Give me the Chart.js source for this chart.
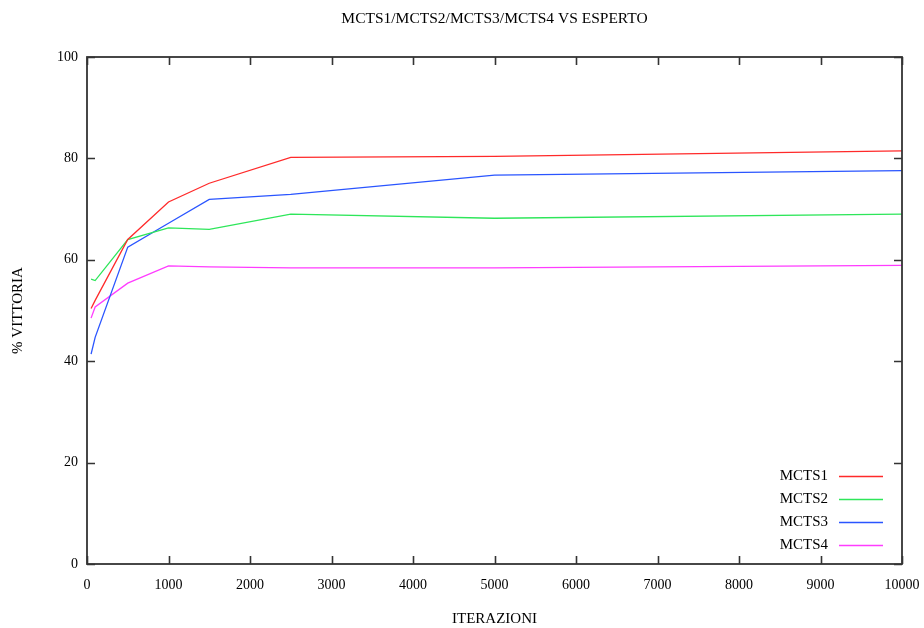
<!DOCTYPE html>
<html>
<head>
<meta charset="utf-8">
<script src="https://cdn.jsdelivr.net/npm/chart.js@4/dist/chart.umd.min.js"></script>
<style>
html,body{margin:0;padding:0;background:#fff;}
#wrap{width:924px;height:628px;}
</style>
</head>
<body>
<div id="wrap"><canvas id="c" width="924" height="628"></canvas></div>
<script>
const iterations = [50, 100, 500, 1000, 1500, 2500, 5000, 10000];
const mcts1 = [50.4, 52.0, 64.0, 71.4, 75.1, 80.2, 80.4, 81.5];
const mcts2 = [56.2, 55.9, 64.0, 66.3, 66.0, 69.0, 68.2, 69.0];
const mcts3 = [41.4, 44.7, 62.5, 67.2, 71.9, 72.9, 76.7, 77.6];
const mcts4 = [48.5, 50.7, 55.4, 58.8, 58.6, 58.4, 58.4, 58.9];
const seriesNames = ['MCTS1', 'MCTS2', 'MCTS3', 'MCTS4'];
const titleText = 'MCTS1/MCTS2/MCTS3/MCTS4 VS ESPERTO';
const xTitle = 'ITERAZIONI';
const yTitle = '% VITTORIA';

const colors = ['#ff2a2a', '#2ee65a', '#2a55ff', '#ff3cff'];
const FONT = 'Liberation Serif, Times New Roman, serif';

function pts(ys){ return iterations.map((x,i)=>({x:x, y:ys[i]})); }
const allSeries = [mcts1, mcts2, mcts3, mcts4];

const frame = {
  id: 'frame',
  afterDatasetsDraw(chart){
    const {ctx, chartArea:a, scales} = chart;
    ctx.save();
    ctx.strokeStyle = '#333';
    ctx.lineWidth = 1.6;
    const tl = 8;
    ctx.beginPath();
    scales.x.ticks.forEach(t=>{
      const px = Math.round(scales.x.getPixelForValue(t.value)) + 0.5;
      ctx.moveTo(px, a.bottom); ctx.lineTo(px, a.bottom - tl);
      ctx.moveTo(px, a.top); ctx.lineTo(px, a.top + tl);
    });
    scales.y.ticks.forEach(t=>{
      const py = Math.round(scales.y.getPixelForValue(t.value)) + 0.5;
      ctx.moveTo(a.left, py); ctx.lineTo(a.left + tl, py);
      ctx.moveTo(a.right, py); ctx.lineTo(a.right - tl, py);
    });
    ctx.stroke();
    ctx.lineWidth = 1.8;
    ctx.strokeRect(a.left, a.top, a.right - a.left, a.bottom - a.top);
    // title
    ctx.fillStyle = '#000';
    ctx.font = '15.5px ' + FONT;
    ctx.textAlign = 'center';
    ctx.textBaseline = 'middle';
    ctx.fillText(titleText, (a.left + a.right) / 2, 19);
    // legend
    ctx.font = '15px ' + FONT;
    ctx.textAlign = 'right';
    ctx.textBaseline = 'middle';
    const rowY0 = a.bottom - 88;
    chart.data.datasets.forEach((ds, i)=>{
      const y = rowY0 + i * 23;
      ctx.fillStyle = '#000';
      ctx.fillText(ds.label, a.right - 74, y);
      ctx.strokeStyle = ds.borderColor;
      ctx.lineWidth = 1.3;
      ctx.beginPath();
      ctx.moveTo(a.right - 63, y + 0.5);
      ctx.lineTo(a.right - 19, y + 0.5);
      ctx.stroke();
    });
    ctx.restore();
  }
};

new Chart(document.getElementById('c'), {
  type: 'line',
  data: {
    datasets: allSeries.map((s, i)=>({
      label: seriesNames[i],
      data: pts(s),
      borderColor: colors[i],
      backgroundColor: colors[i],
      borderWidth: 1.3,
      pointRadius: 0,
      tension: 0,
      fill: false
    }))
  },
  options: {
    responsive: false,
    animation: false,
    layout: { padding: { left: 0, right: 22, top: 57, bottom: 0 } },
    plugins: {
      legend: { display: false },
      tooltip: { enabled: false },
      title: { display: false }
    },
    scales: {
      x: {
        type: 'linear',
        min: 0, max: 10000,
        afterFit(s){ s.height = 64; s.paddingRight = 0; s.paddingLeft = 0; },
        grid: { display: false, drawTicks: false },
        border: { display: false },
        ticks: { stepSize: 1000, color: '#000', padding: 13, maxRotation: 0,
                 callback: v => String(v),
                 font: { family: FONT, size: 14 } },
        title: { display: true, text: xTitle, color: '#000',
                 font: { family: FONT, size: 15 }, padding: { top: 0, bottom: 0 } }
      },
      y: {
        min: 0, max: 100,
        afterFit(s){ s.width = 87; s.paddingTop = 0; s.paddingBottom = 0; },
        grid: { display: false, drawTicks: false },
        border: { display: false },
        ticks: { stepSize: 20, color: '#000', padding: 9,
                 callback: v => String(v),
                 font: { family: FONT, size: 14 } },
        title: { display: true, text: yTitle, color: '#000',
                 font: { family: FONT, size: 15 }, padding: { top: 9, bottom: 0 } }
      }
    }
  },
  plugins: [frame]
});
</script>
</body>
</html>
